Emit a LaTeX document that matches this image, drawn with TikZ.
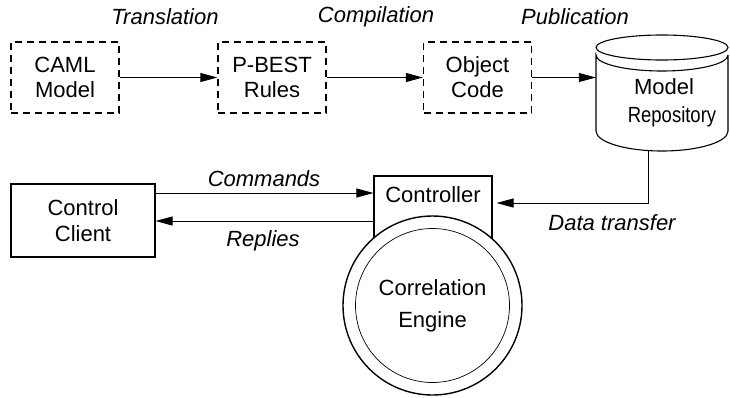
\documentclass[tikz,border=0pt]{standalone}
\usepackage{fontspec}
\setmainfont{Liberation Sans}
\usepackage{graphicx}
\usetikzlibrary{arrows.meta,calc}
\begin{document}
\begin{tikzpicture}[x=1pt,y=-1pt,
  every node/.style={font=\fontsize{22}{25}\selectfont, align=center, inner sep=0pt},
  dbox/.style={draw, line width=1.3pt, dash pattern=on 7pt off 5pt, minimum width=108pt, minimum height=71pt},
  sbox/.style={draw, line width=1.1pt},
  lbl/.style={font=\fontsize{22}{25}\selectfont\itshape},
  arr/.style={line width=0.9pt, -{Triangle[length=17pt,width=9pt]}}
]
\useasboundingbox (0,0) rectangle (730,397);
% top row
\node[dbox] (caml) at (65,77.5) {CAML\\Model};
\node[dbox] (pbest) at (272,77.5) {P-BEST\\Rules};
\node[dbox] (obj) at (477.5,77.5) {Object\\Code};
% cylinder
\draw[line width=1.1pt] (662,47.5) ellipse [x radius=66pt, y radius=12.5pt];
\draw[line width=1.1pt] (728,55) arc[start angle=0, end angle=-180, x radius=66pt, y radius=16pt]
  -- (596,131) arc[start angle=180, end angle=360, x radius=66pt, y radius=20pt] -- (728,55);
\node[minimum width=132pt, minimum height=116pt] (repo) at (662,93) {};
\node[font=\fontsize{22}{28}\selectfont] (repotext) at (664,103) {Model\\\hspace*{16pt}\scalebox{0.84}[1]{Repository}};
\coordinate (dt) at (648,151);
% labels top
\node[lbl] (ltrans) at (165,17) {Translation};
\node[lbl] (lcomp) at (376,17) {Compilation};
\node[lbl] (lpub) at (575,17) {Publication};
\draw[arr] (caml.east) -- (pbest.west);
\draw[arr] (pbest.east) -- (obj.west);
\draw[arr] (obj.east) -- (obj.east -| repo.west);
% bottom
\node[sbox, minimum width=144pt, minimum height=73pt, font=\fontsize{22}{26}\selectfont] (client) at (83,220.5) {Control\\Client};
\node[sbox, minimum width=118pt, minimum height=84pt] (ctrl) at (433,218) {};
\node (ctrltext) at (433,195) {Controller};
\node[circle, draw, line width=1.4pt, fill=white, minimum size=179pt, font=\fontsize{22}{32}\selectfont] (eng) at (432.5,305.5) {Correlation\\Engine};
\draw[line width=0.7pt] (eng.center) circle[radius=77pt];
\draw[arr] (client.east |- 0,193) -- (ctrl.west |- 0,193);
\draw[arr] (ctrl.west |- 0,221) -- (client.east |- 0,221);
\draw[arr] (dt) |- ($(ctrl.east |- 0,203)+(4,0)$);
\node[lbl] (lcmd) at (264,179) {Commands};
\node[lbl] (lrep) at (263,241) {Replies};
\node[lbl] (ldt) at (612,223) {Data transfer};
\end{tikzpicture}
\end{document}
